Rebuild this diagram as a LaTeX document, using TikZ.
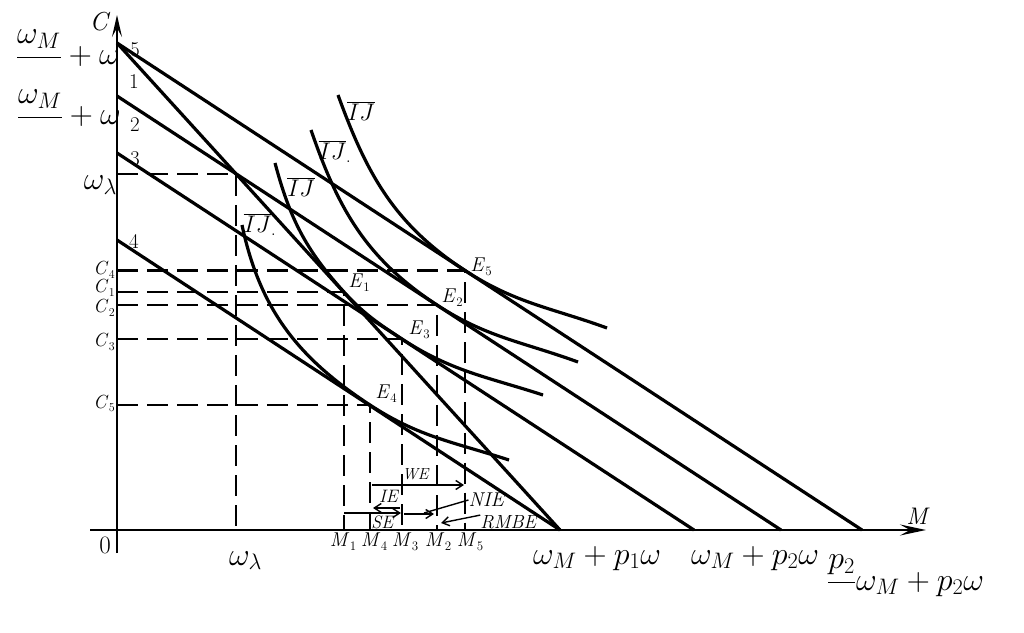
\RequirePackage{fix-cm}
\documentclass[tikz,border=0pt]{standalone}
\usepackage{fontspec}
\usetikzlibrary{arrows.meta}
\newcommand{\isub}[3]{\textit{#1}\kern0.5pt\raisebox{-4pt}{\fontsize{#3}{#3}\selectfont #2}}
\begin{document}
\begin{tikzpicture}[x=1pt,y=1pt,
    axis/.style={line width=2pt},
    budget/.style={line width=3.2pt},
    indiff/.style={line width=3.2pt},
    guide/.style={line width=2.6pt, dash pattern=on 21pt off 9pt},
    effect/.style={line width=1.4pt, -{Straight Barb[length=7pt,width=9pt]}},
    sz/.style={font=\fontsize{#1}{#1}\selectfont, inner sep=0pt}]
  \useasboundingbox (0,0) rectangle (1024,632);

  % axes
  \coordinate (ybot) at (117,79);
  \coordinate (ytop) at (117,617);
  \coordinate (xleft) at (90,102);
  \coordinate (xright) at (926,102);
  \draw[axis, -{Stealth[length=22pt,width=10pt,inset=9pt]}] (ybot) -- (ytop);
  \draw[axis, -{Stealth[length=26pt,width=11pt,inset=10pt]}] (xleft) -- (xright);
  \node[sz=26] (clab) at (100,610) {\textit{C}};
  \node[sz=24] (mlab) at (918,116) {\textit{M}};
  \node[sz=25] (zero) at (105,87) {0};

  % budget lines
  \coordinate (P5) at (117,589);  \coordinate (A5) at (862,102);
  \coordinate (P1) at (117,589);  \coordinate (A1) at (560,102);
  \coordinate (P2) at (117,536);  \coordinate (A2) at (781,102);
  \coordinate (P3) at (117,479);  \coordinate (A3) at (694,102);
  \coordinate (P4) at (117,392);  \coordinate (A4) at (560,102);
  \draw[budget] (P5) -- (A5);
  \draw[budget] (P1) -- (A1);
  \draw[budget] (P2) -- (A2);
  \draw[budget] (P3) -- (A3);
  \draw[budget] (P4) -- (A4);
  \node[sz=21] (n5) at (135,582) {5};
  \node[sz=21] (n1) at (134,550) {1};
  \node[sz=21] (n2) at (135,507) {2};
  \node[sz=21] (n3) at (135,473) {3};
  \node[sz=21] (n4) at (134,391) {4};

  % equilibrium points
  \coordinate (K)  at (236,458);
  \coordinate (E1) at (344,340);
  \coordinate (E2) at (437,327);
  \coordinate (E3) at (402,293);
  \coordinate (E4) at (370,227);
  \coordinate (E5) at (465,361.5);

  % dashed guides
  \draw[guide] (117,458) -- (K) -- (236,102);
  \draw[guide] (117,361.5) -- (E5) -- (465,102);
  \draw[guide] (117,340) -- (E1) -- (344,102);
  \draw[guide] (117,327) -- (E2) -- (437,102);
  \draw[guide] (117,293) -- (E3) -- (402,102);
  \draw[guide] (117,227) -- (E4) -- (370,102);

  % indifference curves
  \draw[indiff] (338,537) to[out=-70,in=146.8] (E5) to[out=-33.2,in=160] (607,304);
  \draw[indiff] (311,502) to[out=-71,in=146.8] (E2) to[out=-33.2,in=160] (578,270);
  \draw[indiff] (275,469) to[out=-75,in=132.3] (E1) to[out=-47.7,in=146.8] (E3)
      to[out=-33.2,in=162] (543,237);
  \draw[indiff] (242,407) to[out=-78,in=146.8] (E4) to[out=-33.2,in=162] (509,172);
  \node[sz=24] (ua) at (361,521) {$\overline{IJ}$};
  \node[sz=24] (ub) at (335,480) {$\overline{IJ}_{.}$};
  \node[sz=24] (uc) at (301,445) {$\overline{IJ}$};
  \node[sz=24] (ud) at (260,407) {$\overline{IJ}_{.}$};

  % point labels
  \node[sz=20] (e1lab) at (359,349) {\isub{E}{1}{13}};
  \node[sz=20] (e2lab) at (452,334) {\isub{E}{2}{13}};
  \node[sz=20] (e3lab) at (419,302) {\isub{E}{3}{13}};
  \node[sz=20] (e4lab) at (386,238) {\isub{E}{4}{13}};
  \node[sz=20] (e5lab) at (481,365) {\isub{E}{5}{13}};

  % left axis labels
  \node[sz=32, anchor=base east] (top1) at (120,567) {$\displaystyle\frac{\omega_M}{\phantom{p}}+\omega$};
  \node[sz=32, anchor=base east] (top2) at (121,507) {$\displaystyle\frac{\omega_M}{\phantom{p}}+\omega$};
  \node[sz=32, anchor=base east] (wl) at (117,442) {$\omega_{\lambda}$};
  \node[sz=19, anchor=base east] (c4) at (115,357) {\isub{C}{4}{12}};
  \node[sz=19, anchor=base east] (c1) at (115,339) {\isub{C}{1}{12}};
  \node[sz=19, anchor=base east] (c2) at (115,319) {\isub{C}{2}{12}};
  \node[sz=19, anchor=base east] (c3) at (115,285) {\isub{C}{3}{12}};
  \node[sz=19, anchor=base east] (c5) at (115,224) {\isub{C}{5}{12}};

  % bottom axis labels
  \node[sz=32, anchor=base west] (wlb) at (229,67) {$\omega_{\lambda}$};
  \node[sz=20] (m1) at (343,90) {\isub{M}{1}{13}};
  \node[sz=20] (m4) at (374,90) {\isub{M}{4}{13}};
  \node[sz=20] (m3) at (405,90) {\isub{M}{3}{13}};
  \node[sz=20] (m2) at (438,90) {\isub{M}{2}{13}};
  \node[sz=20] (m5) at (470,90) {\isub{M}{5}{13}};
  \node[sz=32, anchor=base] (b1) at (597,68) {$\omega_M+p_1\omega$};
  \node[sz=32, anchor=base] (b2) at (755,68) {$\omega_M+p_2\omega$};
  \node[sz=32, anchor=base west] (b3) at (827,42) {$\displaystyle\frac{p_2}{\phantom{p}}\omega_M+p_2\omega$};

  % effects
  \coordinate (we1) at (372,147);  \coordinate (we2) at (464,147);
  \coordinate (ie1) at (400,124);  \coordinate (ie2) at (373,124);
  \coordinate (se1) at (344,119);  \coordinate (se2) at (401,119);
  \coordinate (ni1) at (404,118);  \coordinate (ni2) at (434,118);
  \coordinate (niept) at (424,119);
  \coordinate (rmpt) at (441,109);
  \draw[effect] (we1) -- (we2);
  \draw[effect] (ie1) -- (ie2);
  \draw[effect] (se1) -- (se2);
  \draw[effect] (ni1) -- (ni2);
  \node[sz=16] (welab) at (416,158) {\textit{WE}};
  \node[sz=18] (ielab) at (389,136) {\textit{IE}};
  \node[sz=18] (selab) at (383,110) {\textit{SE}};
  \node[sz=20] (nielab) at (487,132) {\textit{NIE}};
  \node[sz=19] (rmlab) at (509,110) {\textit{RMBE}};
  \draw[line width=1.4pt] (nielab.west) -- (niept);
  \draw[effect] (rmlab.north west) -- (rmpt);
\end{tikzpicture}
\end{document}
